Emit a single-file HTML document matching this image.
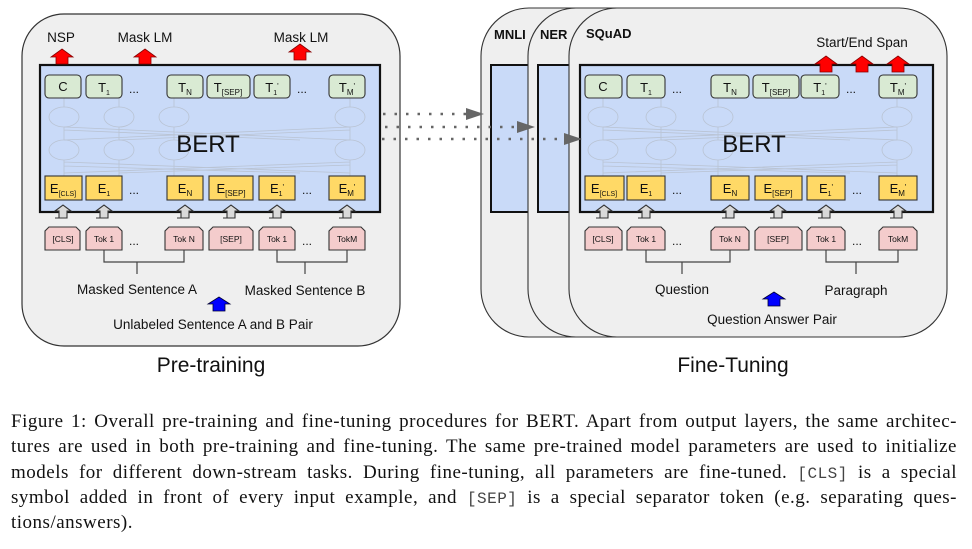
<!DOCTYPE html>
<html><head><meta charset="utf-8"><style>
body{margin:0;background:#fff;width:972px;height:549px;overflow:hidden;position:relative}
svg{position:absolute;left:0;top:0}
svg text{font-family:"Liberation Sans",Arial,sans-serif;fill:#111}
.cap{position:absolute;left:11px;width:946px;font-family:"Liberation Serif","Times New Roman",serif;font-size:19px;letter-spacing:0.5px;color:#111;line-height:25px}
.cap div{text-align:justify;text-align-last:justify;white-space:nowrap;height:25.3px}
.cap div.l{text-align-last:left}
.m{font-family:"Liberation Mono",monospace;color:#444;font-size:16px;letter-spacing:0.5px}
</style></head><body>
<svg width="972" height="400" viewBox="0 0 972 400">
<defs>
<path id="ga" d="M-8,13 L-4,13 L-4,6 L-8,6 L0,0 L8,6 L4,6 L4,13 Z"/>
</defs>

<!-- Left panel -->
<rect x="22" y="14" width="378" height="332" rx="42" fill="#efefef" stroke="#333" stroke-width="1.2"/>
<rect x="40" y="65" width="340" height="147" fill="#c9daf8" stroke="#111" stroke-width="2.2"/>
<g stroke="#b9c3d3" stroke-width="0.8" fill="none">
<ellipse cx="64" cy="117" rx="15" ry="10"/><ellipse cx="119" cy="117" rx="15" ry="10"/><ellipse cx="174" cy="117" rx="15" ry="10"/><ellipse cx="350" cy="117" rx="15" ry="10"/>
<ellipse cx="64" cy="150" rx="15" ry="10"/><ellipse cx="119" cy="150" rx="15" ry="10"/><ellipse cx="174" cy="150" rx="15" ry="10"/><ellipse cx="350" cy="150" rx="15" ry="10"/>
<path d="M64,140 L350,127 M64,127 L350,140 M119,140 L350,130 M64,130 L300,140 M64,173 L350,162 M64,162 L350,173 M119,173 L350,165 M64,166 L300,173 M64,98 V107 M119,98 V107 M174,98 V107 M350,98 V107 M64,127 V140 M119,127 V140 M174,127 V140 M350,127 V140 M64,160 V176 M119,160 V176 M174,160 V176 M350,160 V176"/>
</g>
<text x="208" y="152" font-size="24" text-anchor="middle">BERT</text>
<g stroke="#333" stroke-width="1.1">
<g fill="#d9ead3">
<rect x="45" y="75" width="36" height="23" rx="4"/><rect x="86" y="75" width="36" height="23" rx="4"/><rect x="167" y="75" width="36" height="23" rx="4"/><rect x="207" y="75" width="43" height="23" rx="4"/><rect x="254" y="75" width="36" height="23" rx="4"/><rect x="329" y="75" width="36" height="23" rx="4"/>
</g>
<g fill="#ffd966">
<rect x="45" y="176" width="37" height="24"/><rect x="86" y="176" width="36" height="24"/><rect x="167" y="176" width="36" height="24"/><rect x="209" y="176" width="44" height="24"/><rect x="259" y="176" width="36" height="24"/><rect x="329" y="176" width="36" height="24"/>
</g>
<g fill="#f4cccc">
<path d="M45,250 V231 L49,227 H76 L80,231 V250 Z"/><path d="M86,250 V231 L90,227 H118 L122,231 V250 Z"/><path d="M165,250 V231 L169,227 H199 L203,231 V250 Z"/><path d="M209,250 V231 L213,227 H249 L253,231 V250 Z"/><path d="M259,250 V231 L263,227 H291 L295,231 V250 Z"/><path d="M329,250 V231 L333,227 H361 L365,231 V250 Z"/>
</g>
<g fill="#d9d9d9">
<use href="#ga" x="63" y="205"/><use href="#ga" x="104" y="205"/><use href="#ga" x="185" y="205"/><use href="#ga" x="231" y="205"/><use href="#ga" x="277" y="205"/><use href="#ga" x="347" y="205"/>
</g>
</g>
<g font-size="13" text-anchor="middle">
<text x="63" y="91">C</text><text x="104" y="92">T<tspan font-size="7" dy="3">1</tspan></text><text x="185" y="92">T<tspan font-size="8" dy="3">N</tspan></text><text x="228" y="92">T<tspan font-size="8" dy="3">[SEP]</tspan></text><text x="272" y="92">T<tspan font-size="7" dy="3">1</tspan><tspan font-size="8" dy="-6">'</tspan></text><text x="347" y="92">T<tspan font-size="8" dy="3">M</tspan><tspan font-size="8" dy="-6">'</tspan></text>
<text x="63" y="193">E<tspan font-size="7" dy="3">[CLS]</tspan></text><text x="104" y="193">E<tspan font-size="7" dy="3">1</tspan></text><text x="185" y="193">E<tspan font-size="8" dy="3">N</tspan></text><text x="231" y="193">E<tspan font-size="8" dy="3">[SEP]</tspan></text><text x="277" y="193">E<tspan font-size="7" dy="3">1</tspan><tspan font-size="8" dy="-6">'</tspan></text><text x="347" y="193">E<tspan font-size="8" dy="3">M</tspan><tspan font-size="8" dy="-6">'</tspan></text>
<g font-size="8.5"><text x="63" y="242">[CLS]</text><text x="104" y="242">Tok 1</text><text x="184" y="242">Tok N</text><text x="231" y="242">[SEP]</text><text x="277" y="242">Tok 1</text><text x="347" y="242">TokM</text></g>
<g font-size="12"><text x="134" y="93">...</text><text x="302" y="93">...</text><text x="134" y="194">...</text><text x="307" y="194">...</text><text x="134" y="245">...</text><text x="307" y="245">...</text></g>
</g>
<path d="M104,250 V262 H184 V250 M137,262 V274 M277,250 V262 H347 V250 M305,262 V274" stroke="#444" stroke-width="1.2" fill="none"/>
<g font-size="13.5" text-anchor="middle">
<text x="61" y="42">NSP</text><text x="145" y="42">Mask LM</text><text x="301" y="42">Mask LM</text>
<text x="137" y="294">Masked Sentence A</text><text x="305" y="295">Masked Sentence B</text>
<text x="213" y="329">Unlabeled Sentence A and B Pair</text>
</g>
<g fill="#ff0000" stroke="#800" stroke-width="0.8">
<path d="M62,49 L73,57 L68,57 L68,64 L56,64 L56,57 L51,57 Z"/>
<path d="M145,49 L156,57 L151,57 L151,64 L139,64 L139,57 L134,57 Z"/>
<path d="M300,44 L311,52 L306,52 L306,60 L294,60 L294,52 L289,52 Z"/>
</g>
<path d="M219,297 L230,304 L225,304 L225,311 L213,311 L213,304 L208,304 Z" fill="#0000ff" stroke="#003" stroke-width="0.8"/>
<text x="211" y="372" font-size="21" text-anchor="middle">Pre-training</text>

<!-- Right panels -->
<rect x="481" y="8" width="440" height="329" rx="48" fill="#efefef" stroke="#333" stroke-width="1.1"/>
<rect x="491" y="65" width="60" height="147" fill="#c9daf8" stroke="#111" stroke-width="2"/>
<rect x="528" y="8" width="410" height="329" rx="48" fill="#efefef" stroke="#333" stroke-width="1.1"/>
<rect x="538" y="65" width="60" height="147" fill="#c9daf8" stroke="#111" stroke-width="2"/>
<rect x="569" y="8" width="378" height="329" rx="48" fill="#efefef" stroke="#333" stroke-width="1.1"/>
<g font-size="13" font-weight="bold"><text x="494" y="39">MNLI</text><text x="540" y="39">NER</text><text x="586" y="38">SQuAD</text></g>
<rect x="580" y="65" width="353" height="147" fill="#c9daf8" stroke="#111" stroke-width="2.2"/>
<g stroke="#b9c3d3" stroke-width="0.8" fill="none">
<ellipse cx="603" cy="117" rx="15" ry="10"/><ellipse cx="661" cy="117" rx="15" ry="10"/><ellipse cx="718" cy="117" rx="15" ry="10"/><ellipse cx="897" cy="117" rx="15" ry="10"/>
<ellipse cx="603" cy="150" rx="15" ry="10"/><ellipse cx="661" cy="150" rx="15" ry="10"/><ellipse cx="718" cy="150" rx="15" ry="10"/><ellipse cx="897" cy="150" rx="15" ry="10"/>
<path d="M603,140 L897,127 M603,127 L897,140 M661,140 L897,130 M603,130 L850,140 M603,173 L897,162 M603,162 L897,173 M661,173 L897,165 M603,166 L850,173 M603,98 V107 M661,98 V107 M718,98 V107 M897,98 V107 M603,127 V140 M661,127 V140 M718,127 V140 M897,127 V140 M603,160 V176 M661,160 V176 M718,160 V176 M897,160 V176"/>
</g>
<text x="754" y="152" font-size="24" text-anchor="middle">BERT</text>
<g stroke="#333" stroke-width="1.1">
<g fill="#d9ead3">
<rect x="585" y="75" width="37" height="23" rx="4"/><rect x="627" y="75" width="38" height="23" rx="4"/><rect x="711" y="75" width="38" height="23" rx="4"/><rect x="753" y="75" width="46" height="23" rx="4"/><rect x="801" y="75" width="38" height="23" rx="4"/><rect x="879" y="75" width="38" height="23" rx="4"/>
</g>
<g fill="#ffd966">
<rect x="585" y="176" width="39" height="24"/><rect x="627" y="176" width="38" height="24"/><rect x="711" y="176" width="38" height="24"/><rect x="755" y="176" width="47" height="24"/><rect x="807" y="176" width="38" height="24"/><rect x="879" y="176" width="38" height="24"/>
</g>
<g fill="#f4cccc">
<path d="M585,250 V231 L589,227 H618 L622,231 V250 Z"/><path d="M627,250 V231 L631,227 H661 L665,231 V250 Z"/><path d="M711,250 V231 L715,227 H745 L749,231 V250 Z"/><path d="M755,250 V231 L759,227 H798 L802,231 V250 Z"/><path d="M807,250 V231 L811,227 H841 L845,231 V250 Z"/><path d="M879,250 V231 L883,227 H913 L917,231 V250 Z"/>
</g>
<g fill="#d9d9d9">
<use href="#ga" x="604" y="205"/><use href="#ga" x="646" y="205"/><use href="#ga" x="730" y="205"/><use href="#ga" x="778" y="205"/><use href="#ga" x="826" y="205"/><use href="#ga" x="898" y="205"/>
</g>
</g>
<g font-size="13" text-anchor="middle">
<text x="603" y="91">C</text><text x="646" y="92">T<tspan font-size="7" dy="3">1</tspan></text><text x="730" y="92">T<tspan font-size="8" dy="3">N</tspan></text><text x="776" y="92">T<tspan font-size="8" dy="3">[SEP]</tspan></text><text x="820" y="92">T<tspan font-size="7" dy="3">1</tspan><tspan font-size="8" dy="-6">'</tspan></text><text x="898" y="92">T<tspan font-size="8" dy="3">M</tspan><tspan font-size="8" dy="-6">'</tspan></text>
<text x="604" y="193">E<tspan font-size="7" dy="3">[CLS]</tspan></text><text x="646" y="193">E<tspan font-size="7" dy="3">1</tspan></text><text x="730" y="193">E<tspan font-size="8" dy="3">N</tspan></text><text x="778" y="193">E<tspan font-size="8" dy="3">[SEP]</tspan></text><text x="826" y="193">E<tspan font-size="7" dy="3">1</tspan><tspan font-size="8" dy="-6">'</tspan></text><text x="898" y="193">E<tspan font-size="8" dy="3">M</tspan><tspan font-size="8" dy="-6">'</tspan></text>
<g font-size="8.5"><text x="603" y="242">[CLS]</text><text x="646" y="242">Tok 1</text><text x="730" y="242">Tok N</text><text x="778" y="242">[SEP]</text><text x="826" y="242">Tok 1</text><text x="898" y="242">TokM</text></g>
<g font-size="12"><text x="677" y="93">...</text><text x="851" y="93">...</text><text x="677" y="194">...</text><text x="857" y="194">...</text><text x="677" y="245">...</text><text x="857" y="245">...</text></g>
</g>
<path d="M646,250 V262 H730 V250 M682,262 V274 M826,250 V262 H898 V250 M856,262 V274" stroke="#444" stroke-width="1.2" fill="none"/>
<g font-size="13.5" text-anchor="middle">
<text x="862" y="47">Start/End Span</text>
<text x="682" y="294">Question</text><text x="856" y="295">Paragraph</text>
<text x="772" y="324">Question Answer Pair</text>
</g>
<g fill="#ff0000" stroke="#800" stroke-width="0.8">
<path d="M826,56 L837,64 L832,64 L832,72 L820,72 L820,64 L815,64 Z"/>
<path d="M862,56 L873,64 L868,64 L868,72 L856,72 L856,64 L851,64 Z"/>
<path d="M898,56 L909,64 L904,64 L904,72 L892,72 L892,64 L887,64 Z"/>
</g>
<path d="M774,292 L785,299 L780,299 L780,306 L768,306 L768,299 L763,299 Z" fill="#0000ff" stroke="#003" stroke-width="0.8"/>
<text x="733" y="372" font-size="21" text-anchor="middle">Fine-Tuning</text>

<!-- dotted arrows -->
<g stroke="#666" stroke-width="2.5" stroke-dasharray="2.5,9" fill="none">
<path d="M383,114 H470"/><path d="M385,127 H520"/><path d="M382,139 H567"/>
</g>
<g fill="#666">
<path d="M466,108 L484,114 L466,120 Z"/><path d="M517,121 L535,127 L517,133 Z"/><path d="M564,133 L582,139 L564,145 Z"/>
</g>
</svg>
<div class="cap" style="top:409px">
<div>Figure 1: Overall pre-training and fine-tuning procedures for BERT. Apart from output layers, the same architec-</div>
<div>tures are used in both pre-training and fine-tuning. The same pre-trained model parameters are used to initialize</div>
<div>models for different down-stream tasks. During fine-tuning, all parameters are fine-tuned. <span class="m">[CLS]</span> is a special</div>
<div>symbol added in front of every input example, and <span class="m">[SEP]</span> is a special separator token (e.g. separating ques-</div>
<div class="l">tions/answers).</div>
</div>
</body></html>
